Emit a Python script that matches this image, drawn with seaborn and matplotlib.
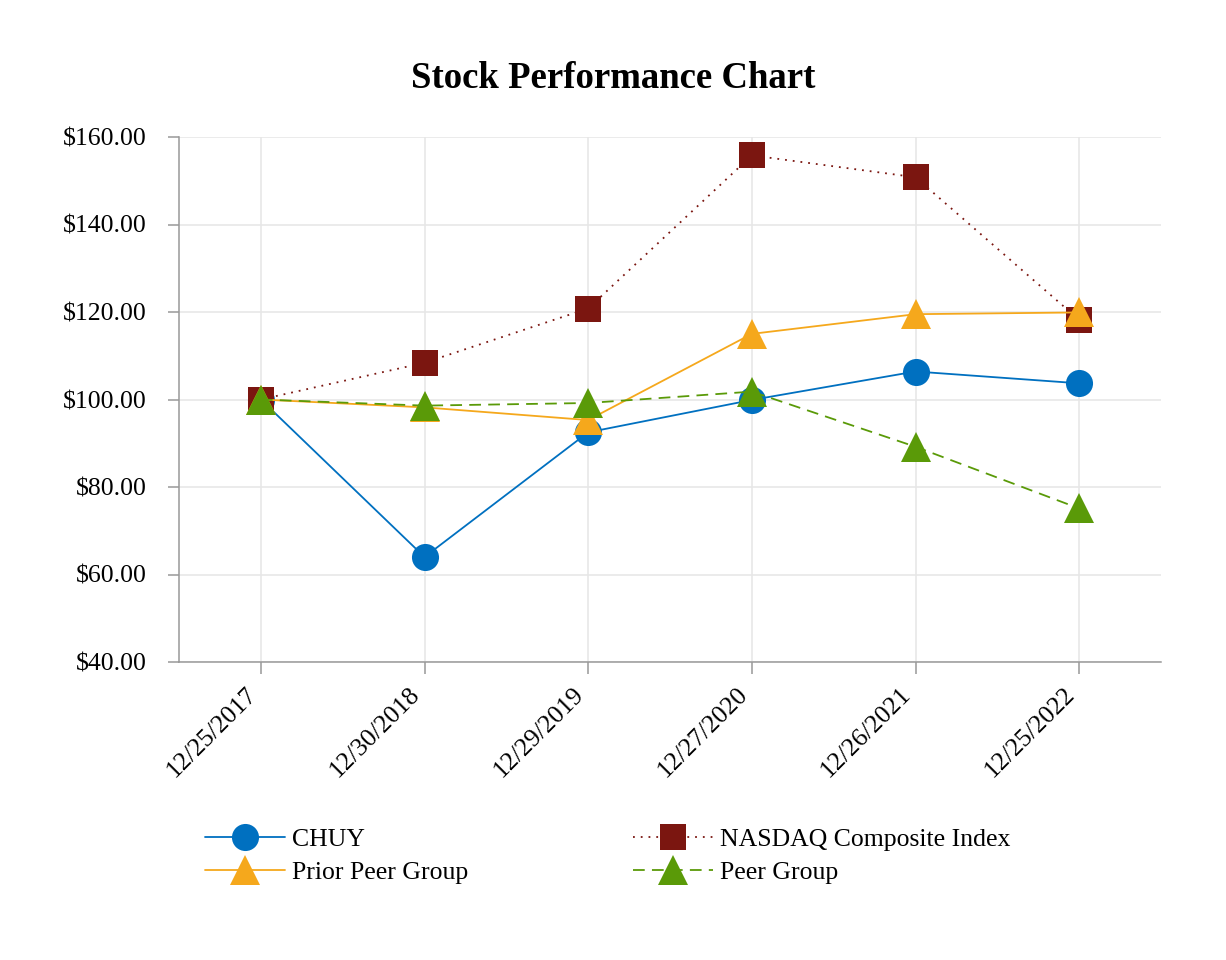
import pandas as pd
import numpy as np
import seaborn as sns
import matplotlib.pyplot as plt
from matplotlib.ticker import StrMethodFormatter

dates = ["12/25/2017", "12/30/2018", "12/29/2019", "12/27/2020", "12/26/2021", "12/25/2022"]
chuy = [100.0, 64.0, 92.5, 99.9, 106.4, 103.7]
nasdaq = [100.0, 108.4, 120.8, 155.8, 150.8, 118.2]
prior_peer = [100.0, 98.2, 95.3, 115.0, 119.5, 119.9]
peer = [100.0, 98.6, 99.2, 101.8, 89.2, 75.1]

sns.set_theme(style="whitegrid", rc={
    "grid.color": "#e6e6e6",
    "grid.linewidth": 1.1,
    "axes.edgecolor": "#999999",
    "axes.linewidth": 1.1,
    "text.color": "black",
    "xtick.labelcolor": "black",
    "ytick.labelcolor": "black",
})
plt.rcParams['font.family'] = ['Liberation Serif', 'DejaVu Serif']

fig = plt.figure(figsize=(12.26, 9.6), dpi=100)
ax = fig.add_axes([179/1226, 1-662/960, (1161-179)/1226, (662-137)/960])

x = np.arange(len(dates))
# draw order matters: later ones sit on top
series = [
    ("CHUY", chuy, "#0070c0", "o", 19.5, "-"),
    ("NASDAQ Composite Index", nasdaq, "#7b1610", "s", 19, (0, (1, 3.3))),
    ("Prior Peer Group", prior_peer, "#f5a81c", "^", 21, "-"),
    ("Peer Group", peer, "#5a9a08", "^", 21, (0, (6.5, 4))),
]
handles = {}
for name, vals, col, mk, ms, ls in series:
    sns.lineplot(x=x, y=vals, ax=ax, color=col, marker=mk, markersize=ms,
                 markeredgewidth=0, linewidth=1.3, linestyle=ls, label=name, sort=False)
    handles[name] = ax.get_lines()[-1]

ax.set_xlim(-0.5, 5.5)
ax.set_ylim(40, 160)
ax.set_yticks([40, 60, 80, 100, 120, 140, 160])
ax.yaxis.set_major_formatter(StrMethodFormatter("${x:.2f}"))
ax.set_xticks(x)
ax.set_xticklabels(dates, rotation=45, ha="right")
ax.tick_params(axis="y", length=8, width=1.1, color="#999999", pad=15, labelsize=18.5, left=True)
ax.tick_params(axis="x", length=8.5, width=1.1, color="#999999", pad=7, labelsize=18.5, bottom=True)
for s in ["top", "right"]:
    ax.spines[s].set_visible(False)
ax.set_xlabel("")
ax.set_ylabel("")
ax.get_legend().remove()

fig.suptitle("Stock Performance Chart", x=0.5, y=1-79/960, va="center",
             fontsize=26.5, fontweight="bold")

order = ["CHUY", "Prior Peer Group", "NASDAQ Composite Index", "Peer Group"]
fig.legend([handles[n] for n in order], order, loc="upper left",
           bbox_to_anchor=(205/1226, 1-828/960), ncol=2, frameon=False,
           fontsize=18.5, handlelength=3.1, handletextpad=0.3, columnspacing=6.4,
           labelspacing=0.38, borderpad=0, borderaxespad=0)

fig.savefig("out.png", dpi=100, facecolor="white")
